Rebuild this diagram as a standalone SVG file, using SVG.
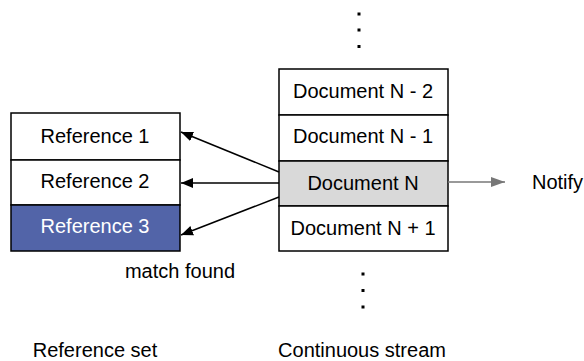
<svg xmlns="http://www.w3.org/2000/svg" width="584" height="361" viewBox="0 0 584 361">
<style>
.box{fill:#fff;stroke:#000;stroke-width:1.5}
.t{font-family:"Liberation Sans",Arial,sans-serif;font-size:20px;text-anchor:middle;fill:#000}
.c{stroke:#000;stroke-width:1.5;fill:none}
</style>
<defs>
<marker id="ah" markerWidth="12" markerHeight="10" refX="12" refY="5" orient="auto" markerUnits="userSpaceOnUse"><path d="M0,0 L12,5 L0,10 Z" fill="#000"/></marker>
<marker id="ahg" markerWidth="14" markerHeight="10" refX="14" refY="5" orient="auto" markerUnits="userSpaceOnUse"><path d="M0,0 L14,5 L0,10 Z" fill="#777"/></marker>
</defs>
<rect width="584" height="361" fill="#fff"/>
<g id="ref1"><rect class="box" x="11" y="113" width="169" height="47"/><text class="t" x="95" y="143">Reference 1</text></g>
<g id="ref2"><rect class="box" x="11" y="160" width="169" height="45"/><text class="t" x="95" y="188">Reference 2</text></g>
<g id="ref3"><rect class="box" x="11" y="205" width="169" height="46" style="fill:#5264a8"/><text class="t" x="95" y="233" style="fill:#fff">Reference 3</text></g>
<g id="docN-2"><rect class="box" x="279" y="69" width="169" height="46"/><text class="t" x="363" y="98">Document N - 2</text></g>
<g id="docN-1"><rect class="box" x="279" y="115" width="169" height="46"/><text class="t" x="363" y="143">Document N - 1</text></g>
<g id="docN"><rect class="box" x="279" y="161" width="169" height="45" style="fill:#d9d9d9"/><text class="t" x="363" y="190">Document N</text></g>
<g id="docN+1"><rect class="box" x="279" y="206" width="169" height="45"/><text class="t" x="363" y="235">Document N + 1</text></g>
<g id="dots-top" fill="#000"><rect x="357.5" y="12.5" width="3" height="3"/><rect x="357.5" y="28.5" width="3" height="3"/><rect x="357.5" y="45" width="3" height="3"/></g>
<g id="dots-bottom" fill="#000"><rect x="361.5" y="272.5" width="3" height="3"/><rect x="361.5" y="289" width="3" height="3"/><rect x="361.5" y="305.5" width="3" height="3"/></g>
<g id="labels">
<text class="t" x="180" y="278">match found</text>
<text class="t" x="95" y="357">Reference set</text>
<text class="t" x="362" y="357">Continuous stream</text>
<text class="t" x="532" y="189" style="text-anchor:start">Notify</text>
</g>
<g id="connectors">
<line class="c" x1="279" y1="172" x2="181" y2="132" marker-end="url(#ah)"/>
<line class="c" x1="279" y1="183" x2="181" y2="183" marker-end="url(#ah)"/>
<line class="c" x1="279" y1="197" x2="181" y2="235" marker-end="url(#ah)"/>
<line x1="448" y1="182" x2="505" y2="182" stroke="#777" stroke-width="1.5" marker-end="url(#ahg)"/>
</g>
</svg>
